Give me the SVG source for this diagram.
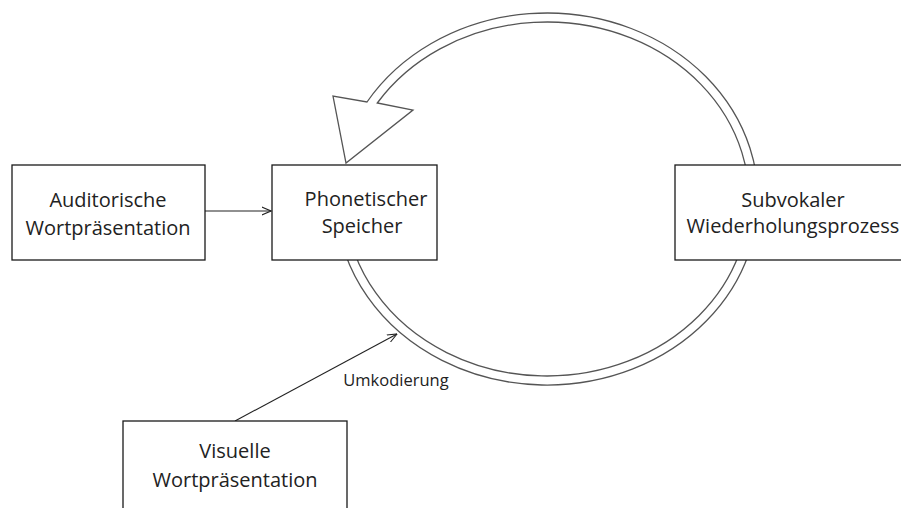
<svg xmlns="http://www.w3.org/2000/svg" width="901" height="508" viewBox="0 0 901 508">
<style>
.box{fill:#fff;stroke:#1a1a1a;stroke-width:1.3}
.t{font-family:"Open Sans","Liberation Sans",sans-serif;font-size:20px;fill:#222;text-anchor:middle}
.lbl{font-family:"Open Sans","Liberation Sans",sans-serif;font-size:16.5px;fill:#222;text-anchor:middle}
.edge{fill:none;stroke:#222;stroke-width:1.1}
.band{fill:#fff;stroke:#555;stroke-width:1.3;stroke-linejoin:miter}
</style>
<defs>
<marker id="open" viewBox="0 0 10 10" refX="9.5" refY="5" markerWidth="10" markerHeight="10" markerUnits="userSpaceOnUse" orient="auto">
<path d="M0,1 L9.5,5 L0,9" fill="none" stroke="#222" stroke-width="1.1"/>
</marker>
</defs>
<rect width="901" height="508" fill="#fff"/>
<g id="loop">
<path class="band" d="M367,102 A211 186 0 1 1 337.35,220 L346.43,220 A202 177 0 1 0 377.3,103 L413,110 L346,163 L333,96 Z"/>
</g>
<g id="connectors">
<line class="edge" x1="205" y1="211" x2="271" y2="211" marker-end="url(#open)"/>
<line class="edge" x1="235" y1="421" x2="397" y2="334" marker-end="url(#open)"/>
<text class="lbl" x="396" y="386">Umkodierung</text>
</g>
<g id="auditorisch">
<rect class="box" x="12" y="165" width="193" height="95"/>
<text class="t" x="108" y="207">Auditorische</text>
<text class="t" x="108" y="235">Wortpräsentation</text>
</g>
<g id="phonetisch">
<rect class="box" x="272" y="165" width="165" height="95"/>
<text class="t" x="366" y="206">Phonetischer</text>
<text class="t" x="362" y="233">Speicher</text>
</g>
<g id="subvokal">
<rect class="box" x="675" y="165" width="240" height="95"/>
<text class="t" x="793" y="207">Subvokaler</text>
<text class="t" x="793" y="233">Wiederholungsprozess</text>
</g>
<g id="visuell">
<rect class="box" x="123" y="421" width="224" height="100"/>
<text class="t" x="235" y="458">Visuelle</text>
<text class="t" x="235" y="487">Wortpräsentation</text>
</g>
</svg>
